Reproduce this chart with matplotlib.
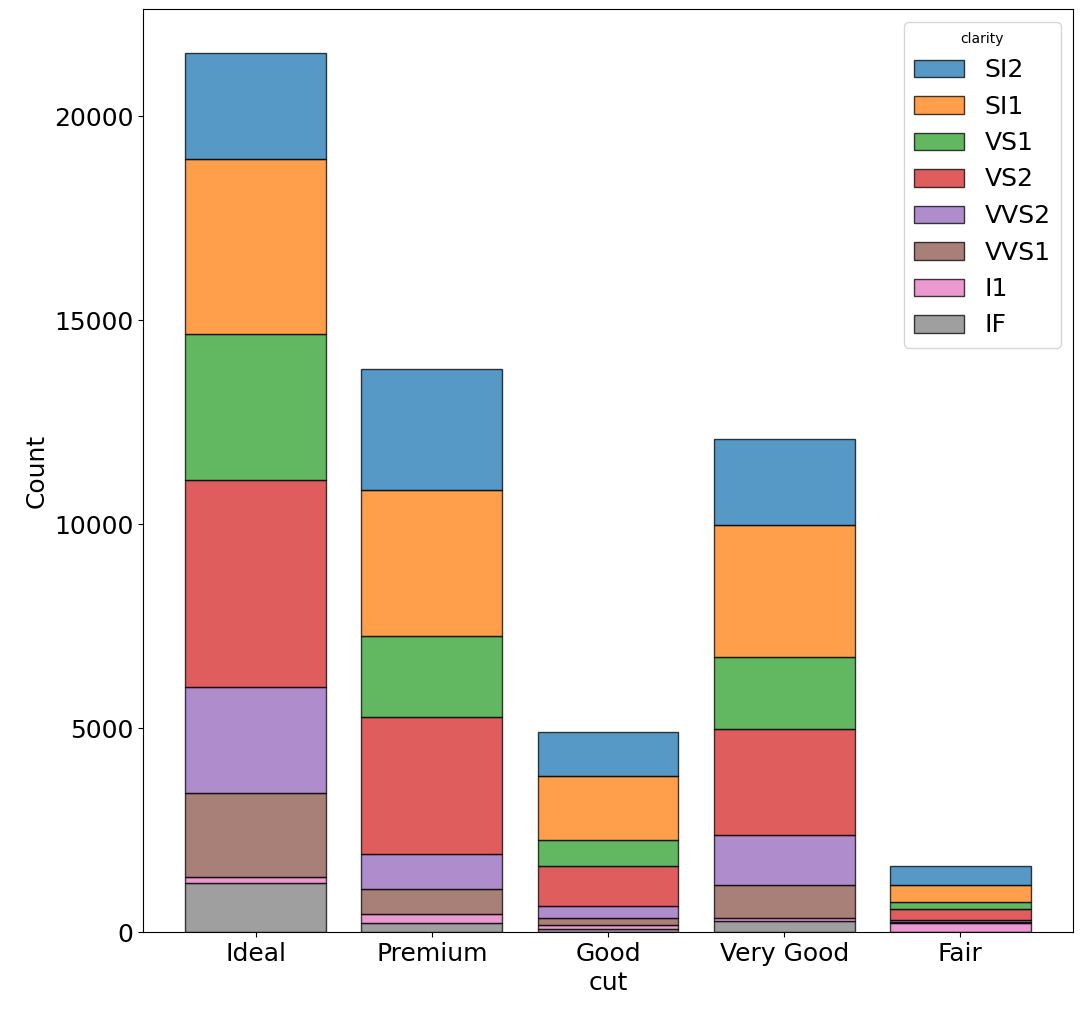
import numpy as np
import matplotlib.pyplot as plt

cuts = ['Ideal', 'Premium', 'Good', 'Very Good', 'Fair']
# legend order (top of stack first)
clarity = ['SI2', 'SI1', 'VS1', 'VS2', 'VVS2', 'VVS1', 'I1', 'IF']
counts = {
    'SI2':  [2598, 2949, 1081, 2100, 466],
    'SI1':  [4282, 3575, 1560, 3240, 408],
    'VS1':  [3589, 1989, 648, 1775, 170],
    'VS2':  [5071, 3357, 978, 2591, 261],
    'VVS2': [2606, 870, 286, 1235, 69],
    'VVS1': [2047, 616, 186, 789, 17],
    'I1':   [146, 205, 96, 84, 210],
    'IF':   [1212, 230, 71, 268, 9],
}
colors = plt.get_cmap('tab10').colors

fig = plt.figure(figsize=(10.83, 10.14), dpi=100)
ax = fig.add_axes([143/1083, 1-932/1014, 930/1083, 923/1014])
x = np.arange(len(cuts))
bottom = np.zeros(len(cuts))
handles = {}
for i in reversed(range(len(clarity))):
    c = clarity[i]
    vals = np.array(counts[c])
    h = ax.bar(x, vals, 0.8, bottom=bottom, color=colors[i], alpha=0.75,
               edgecolor='black', linewidth=1, label=c)
    for p in h:
        p.set_edgecolor((0, 0, 0, 1))
    handles[c] = h
    bottom += vals

ax.set_xlim(-0.64, 4.64)
ax.set_xticks(x)
ax.set_xticklabels(cuts)
ax.tick_params(labelsize=18)
ax.set_xlabel('cut', fontsize=18)
ax.set_ylabel('Count', fontsize=18)
ax.legend([handles[c] for c in clarity], clarity, title='clarity', fontsize=18,
          title_fontsize=10, loc='upper right')
fig.savefig('out.png', dpi=100)
